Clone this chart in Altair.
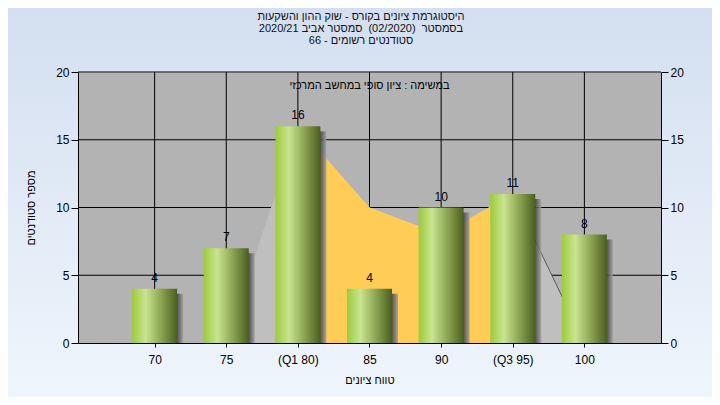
import json
import altair as alt
import pandas as pd

# ---------------- data ----------------
categories = ["70", "75", "(Q1 80)", "85", "90", "(Q3 95)", "100"]
counts = [4, 7, 16, 4, 10, 11, 8]
spread = [None, 0, 16, 10, 8, 11, 0]       # light-grey distribution area
iqr = [None, None, 16, 10, 8, 11, None]    # yellow Q1..Q3 area
edge = [None, None, None, None, None, 11, 0]
y_ticks = [0, 5, 10, 15, 20]
grid_y = [5, 10, 15, 20]

title_lines = [
    "היסטוגרמת ציונים בקורס - שוק ההון והשקעות",
    "בסמסטר \u00a0(02/2020) \u00a0סמסטר אביב 2020/21",
    "סטודנטים רשומים - 66",
]
subtitle = "במשימה : ציון סופי במחשב המרכזי"
x_title = "טווח ציונים"
y_title = "מספר סטודנטים"

# ---------------- setup ----------------
FONT = "Liberation Sans"
W, H = 583, 271

pos = list(range(1, len(categories) + 1))
df = pd.DataFrame({"pos": pos, "cat": categories, "count": counts,
                   "spread": spread, "iqr": iqr, "edge": edge})
gy = pd.DataFrame({"gy": grid_y})
one = pd.DataFrame({"k": [0]})

label_expr = json.dumps(categories, ensure_ascii=False) + "[datum.value - 1]"

xscale = alt.Scale(domain=[0, len(categories) + 1], nice=False, zero=False)
yscale = alt.Scale(domain=[0, 20], nice=False)

common_axis = dict(domainColor="black", tickColor="black", labelFont=FONT,
                   labelFontSize=12, labelColor="black", titleFont=FONT,
                   titleFontSize=11, titleFontWeight="normal", titleColor="black",
                   grid=False, zindex=1)

x_axis = alt.Axis(values=pos, labelExpr=label_expr, title=x_title, tickSize=4,
                  labelPadding=7, titlePadding=9, labelFlush=False, **common_axis)
y_left = alt.Axis(values=y_ticks, title=y_title, orient="left", tickSize=7,
                  labelPadding=2, titlePadding=19, **common_axis)
y_right = alt.Axis(values=y_ticks, title="", orient="right", tickSize=7,
                   labelPadding=2, **common_axis)

bg_grad = alt.Gradient(gradient="linear", x1=0, x2=0, y1=0, y2=1,
                       stops=[alt.GradientStop(color="#d3dff0", offset=0),
                              alt.GradientStop(color="#f0f6fd", offset=1)])
bar_grad = alt.Gradient(gradient="linear", x1=0, x2=1, y1=0, y2=0,
                        stops=[alt.GradientStop(color="#9ccb3a", offset=0),
                               alt.GradientStop(color="#c9e491", offset=0.3),
                               alt.GradientStop(color="#93ad5a", offset=0.6),
                               alt.GradientStop(color="#4a5f1d", offset=1)])
shadow_grad = alt.Gradient(gradient="linear", x1=0, x2=1, y1=0, y2=0,
                           stops=[alt.GradientStop(color="#333333", offset=0),
                                  alt.GradientStop(color="#3c3c3c", offset=0.86),
                                  alt.GradientStop(color="#a0a0a0", offset=1)])

X = alt.X("pos:Q", scale=xscale, axis=x_axis)

# background outside the plot (thick gradient stroke around the plot frame)
bg = alt.Chart(one).mark_rect(filled=False, stroke=bg_grad, strokeWidth=140).encode(
    x=alt.value(-70), x2=alt.value(W + 70), y=alt.value(-70), y2=alt.value(H + 70))

vgrid = alt.Chart(df).mark_rule(color="black", strokeWidth=1).encode(x=X)
hgrid = alt.Chart(gy).mark_rule(color="black", strokeWidth=1).encode(
    y=alt.Y("gy:Q", scale=yscale, axis=y_left))

grey_area = alt.Chart(df).mark_area(color="#bfbfbf").encode(
    x=X, y=alt.Y("spread:Q", scale=yscale, axis=None))
yellow_area = alt.Chart(df).mark_area(color="#ffcc55").encode(
    x=X, y=alt.Y("iqr:Q", scale=yscale, axis=None))
edge_line = alt.Chart(df).mark_line(color="#5a5a5a", strokeWidth=1).encode(
    x=X, y=alt.Y("edge:Q", scale=yscale, axis=None))

shadow = alt.Chart(df).mark_bar(size=45, xOffset=6, yOffset=5, clip=True,
                                color=shadow_grad, opacity=0.85).encode(
    x=X, y=alt.Y("count:Q", scale=yscale, axis=None))
bars = alt.Chart(df).mark_bar(size=45, color=bar_grad).encode(
    x=X, y=alt.Y("count:Q", scale=yscale, axis=y_right))
labels = alt.Chart(df).mark_text(baseline="bottom", dy=-4, fontSize=12, font=FONT,
                                 color="black").encode(
    x=X, y=alt.Y("count:Q", scale=yscale, axis=None), text="count:Q")

sub = alt.Chart(one).mark_text(text=subtitle, fontSize=11, font=FONT, color="black",
                               align="center", baseline="middle").encode(
    x=alt.value(W / 2), y=alt.value(14))
title = alt.Chart(one).mark_text(text=title_lines, fontSize=11, font=FONT,
                                 color="#111111", align="center", baseline="top",
                                 lineHeight=12).encode(
    x=alt.value(283), y=alt.value(-61))

chart = alt.layer(bg, vgrid, hgrid, grey_area, yellow_area, edge_line, shadow, bars,
                  labels, sub, title).resolve_axis(y="independent").properties(
    width=W, height=H,
    autosize=alt.AutoSizeParams(type="none"),
    padding={"left": 70, "top": 64, "right": 51, "bottom": 54},
    background="#e2ebf7",
).configure_view(fill="#b3b3b3", stroke="transparent")

chart.save("out.html", embed_options={"renderer": "svg", "actions": False})
